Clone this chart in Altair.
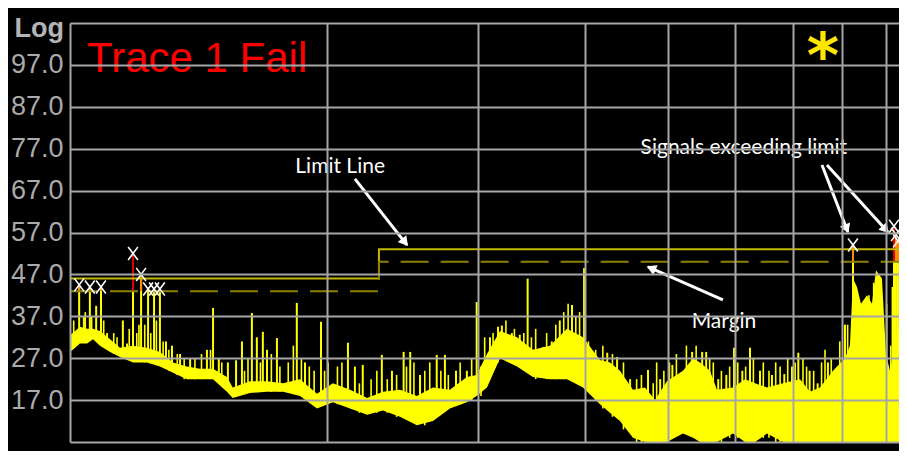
import math
import altair as alt
import pandas as pd

# ---------------- data ----------------
# noise-floor envelope of the trace (frequency in MHz, level in dBuV)
band_freq = [100, 101.4, 102.7, 104.7, 106.4, 108.4, 111.4, 114.4, 118.5, 123.0,
             127.4, 132.0, 137.0, 141.9, 147.0, 152.6, 155.0, 162.4, 170.0, 177.5,
             185.8, 194.5, 203.0, 212.6, 222.6, 232.3, 243.2, 254.5, 265.8, 278.2,
             291.2, 299.0, 307.4, 318.4, 333.3, 347.9, 364.2, 381.4, 398.1, 416.8,
             428.1, 439.8, 455.5, 470.5, 483.4, 499.1, 521.2, 535.5, 545.6, 560.4,
             571.1, 596.3, 616.0, 632.8, 653.5, 682.3, 714.3, 733.6, 753.7, 780.6,
             806.3, 817.0, 823.8, 832.7, 841.7, 855.5, 867.0, 876.4, 890.7, 900.4,
             910.0, 920.0, 932.5]
band_lo = [28.5, 29.5, 30.5, 30.5, 31.5, 30.0, 28.5, 27.3, 26.0, 26.0,
           25.0, 23.5, 22.0, 22.0, 22.0, 19.0, 17.5, 18.7, 19.0, 19.0,
           18.0, 15.0, 16.5, 15.0, 13.5, 14.5, 13.0, 11.0, 12.0, 15.0,
           16.5, 18.0, 20.0, 27.0, 25.0, 22.5, 22.0, 22.0, 20.0, 16.0,
           14.0, 12.0, 8.0, 7.0, 7.0, 7.0, 9.0, 8.0, 7.0, 7.0,
           7.0, 9.0, 7.0, 7.0, 9.0, 7.0, 7.0, 7.0, 7.0, 7.0,
           7.0, 7.0, 7.0, 7.0, 7.0, 7.0, 7.0, 7.0, 7.0, 7.0,
           7.0, 7.0, 7.0]
band_hi = [32.5, 33.5, 34.5, 34.0, 34.0, 33.5, 31.5, 29.5, 30.0, 29.5,
           28.5, 26.0, 25.0, 24.5, 24.5, 22.5, 20.0, 21.5, 21.5, 21.0,
           22.0, 18.5, 21.0, 19.5, 17.5, 19.0, 19.5, 18.0, 20.0, 19.5,
           22.5, 23.0, 28.0, 33.5, 32.0, 29.0, 30.0, 34.0, 32.0, 26.6,
           26.0, 24.0, 19.5, 20.0, 17.0, 21.5, 24.0, 27.0, 26.0, 24.0,
           19.5, 20.0, 22.0, 21.0, 20.0, 21.0, 22.0, 19.0, 20.0, 24.0,
           27.0, 30.0, 46.0, 44.0, 40.0, 42.0, 40.0, 48.0, 46.0, 28.0,
           24.0, 28.0, 35.0]

# narrow spurious signals standing out of the floor
spike_freq = [102.5, 103.8, 105.5, 107.3, 108.7, 110.5, 115.3, 116.6, 118.5, 121.1,
              123.4, 125.4, 127.4, 129.5, 131.6, 134.5, 138.2, 144.6, 147.0, 149.3,
              153.0, 156.4, 158.9, 163.2, 165.4, 168.1, 170.0, 174.6, 184.2, 188.3,
              196.6, 200.3, 211.4, 215.4, 220.0, 231.6, 238.0, 245.6, 250.0, 256.7,
              268.5, 274.5, 282.8, 291.2, 299.0, 309.9, 316.7, 320.0, 328.7, 335.8,
              343.0, 357.7, 366.0, 374.0, 386.5, 399.3, 408.0, 425.0, 436.4, 452.0,
              474.3, 490.1, 506.5, 517.3, 534.2, 548.8, 554.8, 573.1, 585.7, 598.0,
              611.5, 624.3, 641.3, 662.3, 684.7, 699.0, 711.0, 733.0, 749.0, 770.0,
              787.0, 806.2, 823.8, 920.0, 924.9, 929.9]
spike_base = [33, 33, 33, 33, 32, 31, 28, 28, 28, 28,
              28, 28, 27, 26, 25, 24, 24, 23.5, 23.5, 23,
              21, 19, 20, 20, 20, 20, 20, 20, 20, 19,
              17, 18, 17, 16, 15, 16, 16, 15, 15, 13,
              14, 15, 16, 17, 19, 22, 26, 27, 27, 26,
              25, 24, 24, 25, 26, 24, 20, 18, 16, 12,
              10, 10, 12, 12, 12, 12, 12, 10, 10, 10,
              10, 10, 10, 10, 10, 10, 10, 10, 10, 10,
              10, 10, 10, 10, 10, 10]
spike_peak = [44.5, 37.0, 44.0, 39.5, 44.0, 33.0, 36.0, 30.5, 52.0, 47.0,
              43.5, 43.5, 43.5, 31.0, 30.0, 28.0, 27.0, 29.0, 39.0, 27.0,
              26.0, 26.5, 31.0, 37.8, 32.0, 33.3, 29.0, 31.8, 40.2, 26.0,
              35.7, 26.0, 30.7, 25.0, 25.4, 27.8, 24.0, 28.5, 28.5, 23.0,
              27.8, 27.8, 24.0, 24.0, 40.4, 32.0, 34.5, 34.8, 33.0, 32.6,
              46.0, 29.7, 31.0, 36.0, 39.7, 48.5, 28.0, 28.3, 27.3, 22.0,
              24.2, 22.0, 25.4, 23.0, 28.5, 28.5, 28.5, 22.0, 23.0, 29.5,
              24.0, 29.5, 24.0, 23.0, 23.2, 25.0, 28.3, 24.0, 21.0, 26.0,
              24.2, 35.0, 54.0, 58.5, 56.5, 55.0]

# short "grass" on top of the noise floor
grass_freq = [101.0, 104.2, 106.0, 109.5, 112.5, 113.5, 117.3, 119.7, 120.4, 122.3,
              124.3, 126.2, 128.5, 130.5, 133.5, 136.0, 140.0, 142.5, 146.0, 150.5,
              160.0, 161.5, 167.0, 172.0, 176.0, 180.0, 182.5, 186.5, 190.5, 193.0,
              198.5, 205.5, 208.0, 218.0, 225.0, 228.5, 235.0, 241.0, 247.5, 252.5,
              260.0, 263.5, 271.5, 277.0, 286.0, 295.0, 302.5, 305.5, 312.5, 323.5,
              331.0, 339.5, 346.5, 350.5, 361.0, 370.0, 378.0, 382.5, 390.5, 394.5,
              404.0, 412.0, 420.0, 431.0, 444.0, 460.0, 466.0, 481.0, 485.5, 495.0,
              502.5, 512.0, 526.0, 540.0, 560.0, 565.5, 578.0, 591.0, 604.0, 617.0,
              630.0, 647.0, 657.0, 669.0, 677.0, 691.0, 705.0, 720.0, 727.0, 741.0,
              757.0, 764.0, 777.0, 795.0, 812.0, 838.0, 847.0, 860.0, 864.0, 871.0,
              881.0, 885.0, 902.0, 912.0, 916.0]
grass_base = [30, 31, 32, 30, 28, 28, 27, 27, 27, 26,
              26, 26, 25, 24, 23, 22, 22, 22, 22, 21,
              19, 19, 19, 19, 19, 19, 19, 18, 17, 16,
              16, 16, 16, 14, 14, 14, 14, 13, 13, 12,
              11, 12, 14, 15, 16, 17, 18, 20, 24, 27,
              26, 25, 23, 22, 22, 22, 22, 22, 22, 21,
              19, 17, 15, 13, 10, 7, 7, 7, 7, 7,
              8, 9, 9, 8, 7, 7, 7, 8, 8, 7,
              7, 8, 8, 7, 7, 7, 7, 7, 7, 7,
              7, 7, 7, 7, 7, 7, 7, 7, 7, 7,
              7, 7, 7, 7, 7]
grass_peak = [36, 38, 37, 36, 33, 32, 34, 33, 35, 35,
              33, 36, 31, 29, 28, 27, 27, 28, 29, 26,
              24, 27, 26, 28, 25, 26, 30, 27, 25, 24,
              24, 25, 26, 21, 22, 24, 22, 23, 25, 26,
              24, 26, 24, 23, 26, 27, 25, 32, 33, 36,
              34, 33, 32, 34, 33, 35, 38, 40, 37, 38,
              31, 29, 30, 28, 26, 22, 23, 21, 26, 24,
              26, 28, 30, 30, 27, 26, 24, 25, 26, 25,
              27, 26, 24, 26, 25, 27, 26, 27, 25, 24,
              26, 29, 27, 31, 35, 36, 38, 42, 38, 45,
              47, 42, 40, 30, 44]

# limit line and margin
limit_freq = [100, 229.8, 932.5]
limit_level = [46, 53, 53]
margin_offset = 3

y_ticks = [7, 17, 27, 37, 47, 57, 67, 77, 87, 97, 107]
x_grid = [100, 200, 300, 400, 500, 600, 700, 800, 900]

# annotation arrows: tail (freq, level) -> head (freq, level)
arrow_tail_f = [215.4, 580.3, 757.8, 768.0]
arrow_tail_d = [69.8, 40.9, 73.1, 73.1]
arrow_head_f = [247.9, 474.3, 812.6, 905.0]
arrow_head_d = [54.0, 48.8, 57.1, 57.1]

# ---------------- geometry ----------------
W, H = 829, 419
F0, F1 = 100, 932.5
D0, D1 = 7, 107


def px(f):
    return W * math.log10(f / F0) / math.log10(F1 / F0)


def py(d):
    return H * (D1 - d) / (D1 - D0)


def inv_f(x):
    return F0 * 10 ** (x / W * math.log10(F1 / F0))


def inv_d(y):
    return D1 - y * (D1 - D0) / H


xs = alt.Scale(type="log", domain=[F0, F1], nice=False)
ys = alt.Scale(domain=[D0, D1], nice=False, zero=False)

GRID = "#a6a6a6"
YEL = "#ffff00"

band = pd.DataFrame({"f": band_freq, "lo": band_lo, "hi": band_hi})
spk = pd.DataFrame({"f": spike_freq, "base": spike_base, "peak": spike_peak})
grass = pd.DataFrame({"f": grass_freq, "base": grass_base, "peak": grass_peak})


def limit_at(f):
    lvl = limit_level[0]
    for lf, ll in zip(limit_freq, limit_level):
        if f >= lf:
            lvl = ll
    return lvl


spk["limit"] = [limit_at(f) for f in spk["f"]]
spk["margin"] = spk["limit"] - margin_offset
exc = spk[spk["peak"] > spk["margin"]].copy()
exc["kind"] = ["fail" if p - l > 5 else "warn" for p, l in zip(exc["peak"], exc["limit"])]

lim = pd.DataFrame({"f": limit_freq, "d": limit_level})
mar = pd.DataFrame({"f": limit_freq, "d": [v - margin_offset for v in limit_level]})

arr = pd.DataFrame({"f": arrow_tail_f, "d": arrow_tail_d,
                    "f1": arrow_head_f, "d1": arrow_head_d})
hf, hd, ang = [], [], []
for f0, d0, f1, d1 in zip(arrow_tail_f, arrow_tail_d, arrow_head_f, arrow_head_d):
    x0, y0, x1, y1 = px(f0), py(d0), px(f1), py(d1)
    dx, dy = x1 - x0, y1 - y0
    L = math.hypot(dx, dy)
    cx, cy = x1 - dx / L * 5, y1 - dy / L * 5
    hf.append(inv_f(cx))
    hd.append(inv_d(cy))
    ang.append(math.degrees(math.atan2(dx, -dy)) % 360)
heads = pd.DataFrame({"f": hf, "d": hd, "a": ang})

x_axis = alt.Axis(values=x_grid, labels=False, ticks=False, domain=False, grid=True,
                  gridColor=GRID, gridWidth=2, title=None, zindex=1)
y_axis = alt.Axis(values=y_ticks, ticks=False, domain=False, grid=True,
                  gridColor=GRID, gridWidth=2, title=None, zindex=1,
                  labelExpr="datum.value == 7 || datum.value == 107 ? '' : format(datum.value, '.1f')",
                  labelColor="#aaaaaa", labelFont="Liberation Sans", labelFontSize=27,
                  labelPadding=7, labelOverlap=False, labelFlush=False)


def X(field):
    return alt.X(field, scale=xs, axis=x_axis, title=None)


def Y(field):
    return alt.Y(field, scale=ys, axis=y_axis, title=None)


base_band = alt.Chart(band).mark_area(color=YEL, opacity=1).encode(
    x=X("f:Q"), y=Y("lo:Q"), y2="hi:Q",
)

grass_rules = alt.Chart(grass).mark_rule(color=YEL, strokeWidth=1.6).encode(
    x=X("f:Q"), y=Y("base:Q"), y2="peak:Q",
)

spikes = alt.Chart(spk).mark_rule(color=YEL, strokeWidth=2).encode(
    x=X("f:Q"), y=Y("base:Q"), y2="peak:Q",
)

exceed = alt.Chart(exc).mark_rule(strokeWidth=2).encode(
    x=X("f:Q"), y=Y("margin:Q"), y2="peak:Q",
    color=alt.Color("kind:N", scale=alt.Scale(domain=["fail", "warn"], range=["#e00000", "#ff8c00"]),
                    legend=None),
)

limit_line = alt.Chart(lim).mark_line(color="#c4b800", strokeWidth=2, interpolate="step-after").encode(
    x=X("f:Q"), y=Y("d:Q"),
)

margin_line = alt.Chart(mar).mark_line(color="#8c8200", strokeWidth=2, strokeDash=[28, 12],
                                       interpolate="step-after").encode(
    x=X("f:Q"), y=Y("d:Q"),
)

markers = alt.Chart(exc).mark_point(shape="M-0.75,-1L0.75,1M0.75,-1L-0.75,1", filled=False,
                                    color="white", strokeWidth=1.6, size=170, opacity=1).encode(
    x=X("f:Q"), y=Y("peak:Q"),
)

arrow_lines = alt.Chart(arr).mark_rule(color="white", strokeWidth=3).encode(
    x=X("f:Q"), y=Y("d:Q"), x2="f1:Q", y2="d1:Q",
)

arrow_heads = alt.Chart(heads).mark_point(shape="triangle", filled=True, color="white",
                                          size=120, opacity=1).encode(
    x=X("f:Q"), y=Y("d:Q"),
    angle=alt.Angle("a:Q", scale=None),
)


def label(text, f, d, **kw):
    return alt.Chart(pd.DataFrame({"f": [f], "d": [d], "t": [text]})).mark_text(**kw).encode(
        x=X("f:Q"), y=Y("d:Q"), text="t:N",
    )


ann_font = dict(font="Lato", fontSize=21, color="white", align="center", baseline="middle")
t_limit = label("Limit Line", 207, 72.7, **ann_font)
t_margin = label("Margin", 582, 35.7, **ann_font)
t_signals = label("Signals exceeding limit", 614, 77.2, **ann_font)
t_fail = label("Trace 1 Fail", 104.7, 95.4, font="Liberation Sans", fontSize=42, color="#ff0000",
               align="left", baseline="alphabetic")
t_star = label("*", 760, 94.1, font="DejaVu Sans", fontSize=62, fontWeight="bold", color="#ffe600",
               align="center", baseline="alphabetic")

t_log = alt.Chart(pd.DataFrame({"t": ["Log"]})).mark_text(
    font="Liberation Sans", fontSize=27, fontWeight="bold", color="#b4b4b4",
    align="right", baseline="alphabetic").encode(
    x=alt.value(-6), y=alt.value(14), text="t:N")

chart = alt.layer(
    base_band, grass_rules, spikes, exceed, limit_line, margin_line, markers,
    arrow_lines, arrow_heads, t_limit, t_margin, t_signals, t_fail, t_star, t_log,
).properties(
    width=W, height=H,
    padding={"left": 62, "top": 15, "right": 0, "bottom": 9},
    autosize=alt.AutoSizeParams(type="none"),
).configure(background="black").configure_view(stroke=None)

chart.save("out.html", embed_options={"renderer": "svg", "actions": False})
